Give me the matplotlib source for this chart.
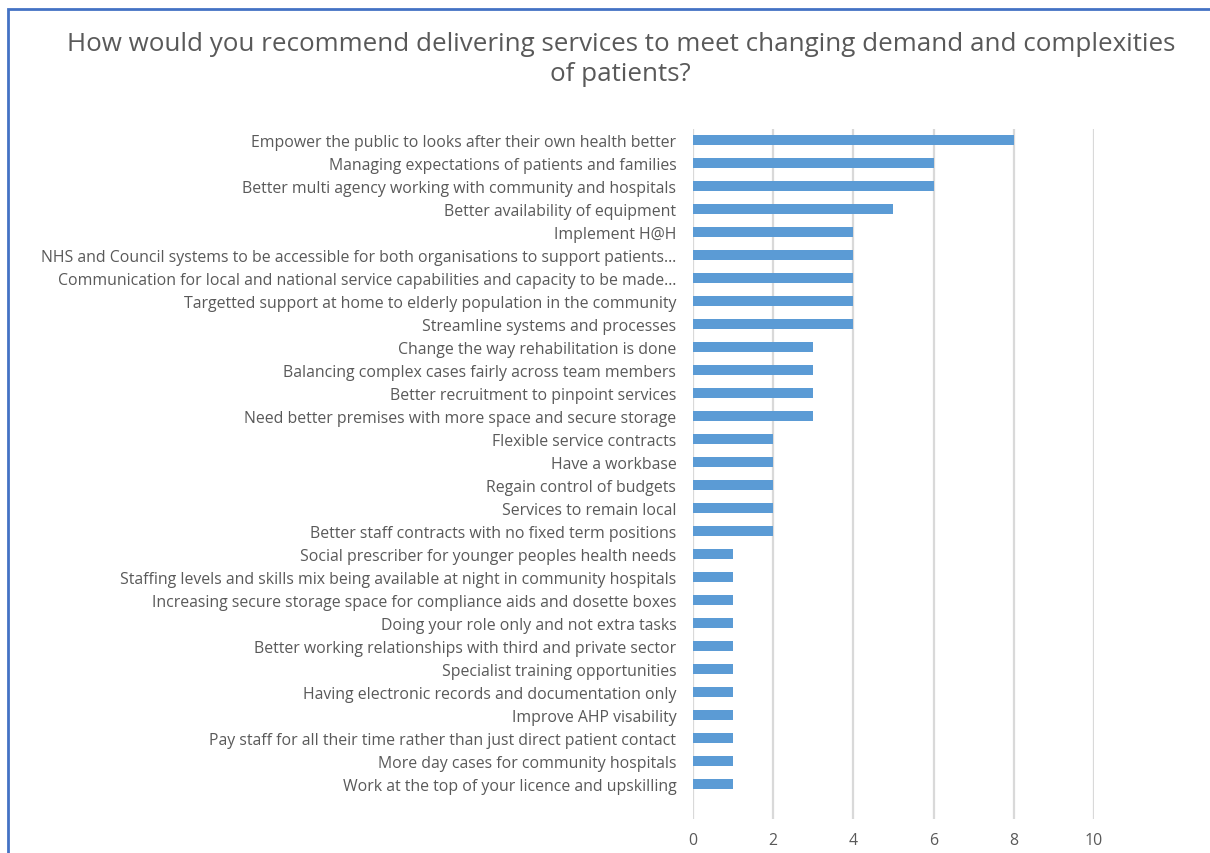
import matplotlib
matplotlib.use("Agg")
import matplotlib.pyplot as plt
from matplotlib.patches import Rectangle

categories = [
    "Empower the public to looks after their own health better",
    "Managing expectations of patients and families",
    "Better multi agency working with community and hospitals",
    "Better availability of equipment",
    "Implement H@H",
    "NHS and Council systems to be accessible for both organisations to support patients\u2026",
    "Communication for local and national service capabilities and capacity to be made\u2026",
    "Targetted support at home to elderly population in the community",
    "Streamline systems and processes",
    "Change the way rehabilitation is done",
    "Balancing complex cases fairly across team members",
    "Better recruitment to pinpoint services",
    "Need better premises with more space and secure storage",
    "Flexible service contracts",
    "Have a workbase",
    "Regain control of budgets",
    "Services to remain local",
    "Better staff contracts with no fixed term positions",
    "Social prescriber for younger peoples health needs",
    "Staffing levels and skills mix being available at night in community hospitals",
    "Increasing secure storage space for compliance aids and dosette boxes",
    "Doing your role only and not extra tasks",
    "Better working relationships with third and private sector",
    "Specialist training opportunities",
    "Having electronic records and documentation only",
    "Improve AHP visability",
    "Pay staff for all their time rather than just direct patient contact",
    "More day cases for community hospitals",
    "Work at the top of your licence and upskilling",
]
values = [8, 6, 6, 5, 4, 4, 4, 4, 4, 3, 3, 3, 3, 2, 2, 2, 2, 2,
          1, 1, 1, 1, 1, 1, 1, 1, 1, 1, 1]
x_ticks = [0, 2, 4, 6, 8, 10]

title = "How would you recommend delivering services to meet changing demand and complexities\nof patients?"

text_color = "#595959"
bar_color = "#5B9BD5"
grid_color = "#D9D9D9"

plt.rcParams["font.family"] = ["Open Sans", "DejaVu Sans"]

fig = plt.figure(figsize=(12.1, 8.54), dpi=100)
ax = fig.add_axes([0.5727, 0.0398, 0.9041 - 0.5727, 0.8478 - 0.0398])

positions = list(range(len(categories)))
ax.barh(positions, values, height=0.4, color=bar_color, zorder=3)

ax.set_xlim(0, 10)
ax.set_ylim(len(categories) - 1 + 1.52, -0.478)
ax.set_xticks(x_ticks)
ax.set_xticklabels([str(t) for t in x_ticks])
ax.set_yticks(positions)
ax.set_yticklabels(categories)

ax.xaxis.grid(True, color=grid_color, linewidth=1.6, zorder=0)
ax.tick_params(axis="both", length=0, colors=text_color, labelsize=11.4)
ax.tick_params(axis="y", pad=12)
ax.tick_params(axis="x", pad=9)
for s in ax.spines.values():
    s.set_visible(False)

fig.text(0.513, 0.962, title, ha="center", va="top", fontsize=18.7,
         color=text_color, linespacing=1.22)

# chart frame: only the top and left edges fall inside the image
fig.patches.append(Rectangle((8 / 1210, -0.1), 1.2, 1 - 10 / 854 + 0.1,
                             transform=fig.transFigure, fill=False,
                             edgecolor="#4472C4", linewidth=2, zorder=10))

fig.savefig("out.png", dpi=100, facecolor="white")
